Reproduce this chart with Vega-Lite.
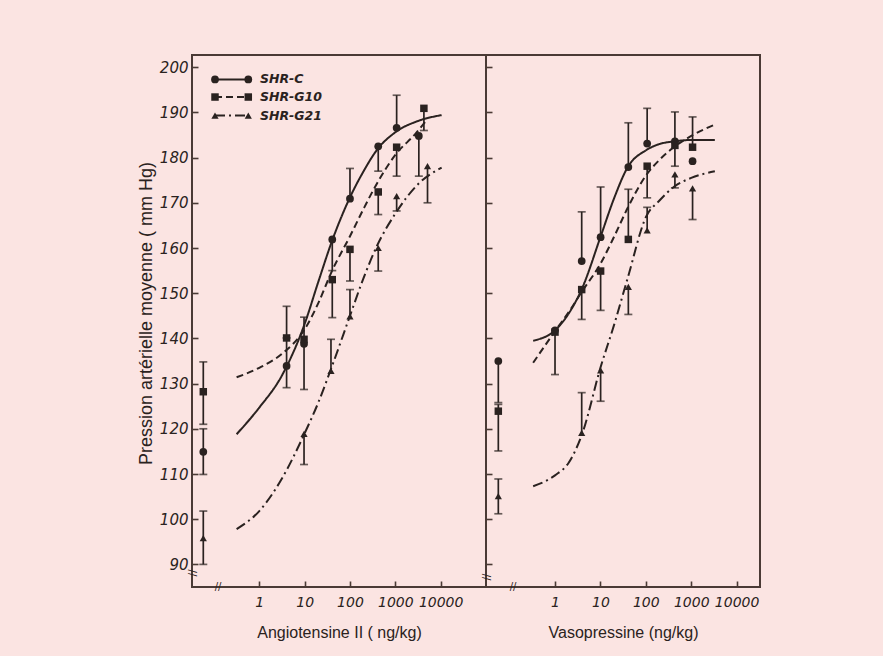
{
  "$schema": "https://vega.github.io/schema/vega-lite/v6.json",
  "padding": {"left": 136, "top": 54, "right": 123, "bottom": 17},
  "background": "#fbe4e2",
  "bounds": "flush",
  "spacing": 0,
  "config": {
    "view": {"stroke": "#4a3a35", "strokeWidth": 2},
    "axis": {
      "domain": false, "grid": false, "tickColor": "#4a3a35", "tickWidth": 1.6, "tickSize": -6,
      "labelFont": "DejaVu Sans", "labelFontStyle": "italic", "labelColor": "#2a2220", "labelOverlap": false,
      "titleFont": "Liberation Sans", "titleFontWeight": "normal", "titleColor": "#2a2220"
    },
    "axisX": {"labelFontSize": 14, "labelPadding": 14, "titlePadding": 15, "titleFontSize": 16},
    "axisY": {"labelFontSize": 15, "labelPadding": 10, "titlePadding": 4, "titleFontSize": 18}
  },
  "datasets": {
    "pts": [
      {"panel": "A", "series": "SHR-G10", "dose": 0.0582, "value": 128.2, "lo": 121.0, "hi": 134.8},
      {"panel": "A", "series": "SHR-C", "dose": 0.0582, "value": 114.9, "lo": 109.9, "hi": 120.0},
      {"panel": "A", "series": "SHR-G21", "dose": 0.0582, "value": 95.8, "lo": 90.0, "hi": 101.8},
      {"panel": "A", "series": "SHR-G10", "dose": 4.0, "value": 140.1, "lo": 140.1, "hi": 147.1},
      {"panel": "A", "series": "SHR-C", "dose": 4.0, "value": 133.9, "lo": 129.1, "hi": 140.1},
      {"panel": "A", "series": "SHR-G10", "dose": 9.7, "value": 139.8, "lo": 139.8, "hi": 144.7},
      {"panel": "A", "series": "SHR-C", "dose": 9.7, "value": 138.8, "lo": 128.7, "hi": 138.8},
      {"panel": "A", "series": "SHR-G21", "dose": 9.7, "value": 118.9, "lo": 112.1, "hi": 118.9},
      {"panel": "A", "series": "SHR-C", "dose": 40.7, "value": 161.9, "lo": 155.0, "hi": 161.9},
      {"panel": "A", "series": "SHR-G10", "dose": 40.7, "value": 153.0, "lo": 144.6, "hi": 153.0},
      {"panel": "A", "series": "SHR-G21", "dose": 38.1, "value": 132.8, "lo": 132.8, "hi": 139.8},
      {"panel": "A", "series": "SHR-C", "dose": 100, "value": 170.9, "lo": 170.9, "hi": 177.6},
      {"panel": "A", "series": "SHR-G10", "dose": 100, "value": 159.7, "lo": 152.7, "hi": 159.7},
      {"panel": "A", "series": "SHR-G21", "dose": 100, "value": 144.9, "lo": 144.9, "hi": 150.8},
      {"panel": "A", "series": "SHR-C", "dose": 420, "value": 182.5, "lo": 177.0, "hi": 182.5},
      {"panel": "A", "series": "SHR-G10", "dose": 420, "value": 172.4, "lo": 167.4, "hi": 172.4},
      {"panel": "A", "series": "SHR-G21", "dose": 420, "value": 160.0, "lo": 154.9, "hi": 160.0},
      {"panel": "A", "series": "SHR-C", "dose": 1070, "value": 186.6, "lo": 186.6, "hi": 193.8},
      {"panel": "A", "series": "SHR-G10", "dose": 1070, "value": 182.3, "lo": 175.9, "hi": 182.3},
      {"panel": "A", "series": "SHR-G21", "dose": 1070, "value": 171.5, "lo": 168.2, "hi": 171.5},
      {"panel": "A", "series": "SHR-C", "dose": 3300, "value": 184.8, "lo": 175.9, "hi": 184.8},
      {"panel": "A", "series": "SHR-G10", "dose": 4270, "value": 190.9, "lo": 186.0, "hi": 190.9},
      {"panel": "A", "series": "SHR-G21", "dose": 5130, "value": 178.1, "lo": 170.0, "hi": 178.1},
      {"panel": "B", "series": "SHR-C", "dose": 0.0564, "value": 135.0, "lo": 125.8, "hi": 135.0},
      {"panel": "B", "series": "SHR-G10", "dose": 0.0564, "value": 123.9, "lo": 115.1, "hi": 125.4},
      {"panel": "B", "series": "SHR-G21", "dose": 0.0564, "value": 105.1, "lo": 101.2, "hi": 108.9},
      {"panel": "B", "series": "SHR-C", "dose": 1, "value": 141.8, "lo": 132.0, "hi": 141.8},
      {"panel": "B", "series": "SHR-G10", "dose": 1, "value": 141.4, "lo": 141.4, "hi": 141.4},
      {"panel": "B", "series": "SHR-C", "dose": 3.87, "value": 157.1, "lo": 157.1, "hi": 168.0},
      {"panel": "B", "series": "SHR-G10", "dose": 3.87, "value": 150.8, "lo": 144.2, "hi": 150.8},
      {"panel": "B", "series": "SHR-G21", "dose": 3.87, "value": 119.1, "lo": 119.1, "hi": 128.0},
      {"panel": "B", "series": "SHR-C", "dose": 10.1, "value": 162.4, "lo": 162.4, "hi": 173.5},
      {"panel": "B", "series": "SHR-G10", "dose": 10.1, "value": 154.9, "lo": 146.2, "hi": 154.9},
      {"panel": "B", "series": "SHR-G21", "dose": 10.1, "value": 132.9, "lo": 126.1, "hi": 132.9},
      {"panel": "B", "series": "SHR-C", "dose": 41.2, "value": 177.9, "lo": 177.9, "hi": 187.7},
      {"panel": "B", "series": "SHR-G10", "dose": 41.2, "value": 161.9, "lo": 161.9, "hi": 173.0},
      {"panel": "B", "series": "SHR-G21", "dose": 41.2, "value": 151.4, "lo": 145.3, "hi": 151.4},
      {"panel": "B", "series": "SHR-C", "dose": 107, "value": 183.1, "lo": 183.1, "hi": 190.9},
      {"panel": "B", "series": "SHR-G10", "dose": 107, "value": 178.1, "lo": 171.1, "hi": 178.1},
      {"panel": "B", "series": "SHR-G21", "dose": 107, "value": 163.9, "lo": 163.9, "hi": 169.0},
      {"panel": "B", "series": "SHR-C", "dose": 437, "value": 183.6, "lo": 183.6, "hi": 190.1},
      {"panel": "B", "series": "SHR-G10", "dose": 437, "value": 182.7, "lo": 178.1, "hi": 182.7},
      {"panel": "B", "series": "SHR-G21", "dose": 437, "value": 176.3, "lo": 173.3, "hi": 176.3},
      {"panel": "B", "series": "SHR-G10", "dose": 1070, "value": 182.3, "lo": 182.3, "hi": 189.0},
      {"panel": "B", "series": "SHR-C", "dose": 1070, "value": 179.2, "lo": 179.2, "hi": 179.2},
      {"panel": "B", "series": "SHR-G21", "dose": 1070, "value": 173.2, "lo": 166.3, "hi": 173.2}
    ],
    "curves": [
      {"panel": "A", "series": "SHR-C", "dose": 0.316, "value": 118.8},
      {"panel": "A", "series": "SHR-C", "dose": 1, "value": 124.7},
      {"panel": "A", "series": "SHR-C", "dose": 3.16, "value": 131.8},
      {"panel": "A", "series": "SHR-C", "dose": 10, "value": 143.2},
      {"panel": "A", "series": "SHR-C", "dose": 20, "value": 152.5},
      {"panel": "A", "series": "SHR-C", "dose": 40, "value": 161.5},
      {"panel": "A", "series": "SHR-C", "dose": 100, "value": 171.2},
      {"panel": "A", "series": "SHR-C", "dose": 200, "value": 177.0},
      {"panel": "A", "series": "SHR-C", "dose": 400, "value": 181.8},
      {"panel": "A", "series": "SHR-C", "dose": 1000, "value": 185.6},
      {"panel": "A", "series": "SHR-C", "dose": 3160, "value": 188.1},
      {"panel": "A", "series": "SHR-C", "dose": 10500, "value": 189.4},
      {"panel": "A", "series": "SHR-G10", "dose": 0.316, "value": 131.4},
      {"panel": "A", "series": "SHR-G10", "dose": 1, "value": 133.5},
      {"panel": "A", "series": "SHR-G10", "dose": 3.16, "value": 136.6},
      {"panel": "A", "series": "SHR-G10", "dose": 10, "value": 142.0},
      {"panel": "A", "series": "SHR-G10", "dose": 20, "value": 147.8},
      {"panel": "A", "series": "SHR-G10", "dose": 40, "value": 154.9},
      {"panel": "A", "series": "SHR-G10", "dose": 100, "value": 162.6},
      {"panel": "A", "series": "SHR-G10", "dose": 200, "value": 168.7},
      {"panel": "A", "series": "SHR-G10", "dose": 400, "value": 174.4},
      {"panel": "A", "series": "SHR-G10", "dose": 1000, "value": 180.6},
      {"panel": "A", "series": "SHR-G10", "dose": 2800, "value": 185.3},
      {"panel": "A", "series": "SHR-G10", "dose": 5000, "value": 188.4},
      {"panel": "A", "series": "SHR-G21", "dose": 0.316, "value": 97.8},
      {"panel": "A", "series": "SHR-G21", "dose": 1, "value": 101.8},
      {"panel": "A", "series": "SHR-G21", "dose": 3.16, "value": 109.0},
      {"panel": "A", "series": "SHR-G21", "dose": 10, "value": 119.0},
      {"panel": "A", "series": "SHR-G21", "dose": 20, "value": 125.8},
      {"panel": "A", "series": "SHR-G21", "dose": 40, "value": 133.8},
      {"panel": "A", "series": "SHR-G21", "dose": 100, "value": 145.0},
      {"panel": "A", "series": "SHR-G21", "dose": 200, "value": 153.4},
      {"panel": "A", "series": "SHR-G21", "dose": 400, "value": 160.6},
      {"panel": "A", "series": "SHR-G21", "dose": 1000, "value": 167.6},
      {"panel": "A", "series": "SHR-G21", "dose": 3160, "value": 174.1},
      {"panel": "A", "series": "SHR-G21", "dose": 10500, "value": 177.8},
      {"panel": "B", "series": "SHR-C", "dose": 0.33, "value": 139.5},
      {"panel": "B", "series": "SHR-C", "dose": 1, "value": 141.8},
      {"panel": "B", "series": "SHR-C", "dose": 2, "value": 145.5},
      {"panel": "B", "series": "SHR-C", "dose": 4, "value": 151.2},
      {"panel": "B", "series": "SHR-C", "dose": 10, "value": 162.4},
      {"panel": "B", "series": "SHR-C", "dose": 20, "value": 171.0},
      {"panel": "B", "series": "SHR-C", "dose": 40, "value": 177.9},
      {"panel": "B", "series": "SHR-C", "dose": 100, "value": 181.6},
      {"panel": "B", "series": "SHR-C", "dose": 200, "value": 183.0},
      {"panel": "B", "series": "SHR-C", "dose": 437, "value": 183.6},
      {"panel": "B", "series": "SHR-C", "dose": 1000, "value": 183.9},
      {"panel": "B", "series": "SHR-C", "dose": 3311, "value": 183.9},
      {"panel": "B", "series": "SHR-G10", "dose": 0.33, "value": 134.6},
      {"panel": "B", "series": "SHR-G10", "dose": 1, "value": 141.6},
      {"panel": "B", "series": "SHR-G10", "dose": 2, "value": 145.8},
      {"panel": "B", "series": "SHR-G10", "dose": 4, "value": 150.5},
      {"panel": "B", "series": "SHR-G10", "dose": 10, "value": 156.5},
      {"panel": "B", "series": "SHR-G10", "dose": 20, "value": 162.5},
      {"panel": "B", "series": "SHR-G10", "dose": 40, "value": 168.9},
      {"panel": "B", "series": "SHR-G10", "dose": 100, "value": 176.0},
      {"panel": "B", "series": "SHR-G10", "dose": 200, "value": 179.5},
      {"panel": "B", "series": "SHR-G10", "dose": 400, "value": 182.2},
      {"panel": "B", "series": "SHR-G10", "dose": 1000, "value": 184.8},
      {"panel": "B", "series": "SHR-G10", "dose": 3311, "value": 187.3},
      {"panel": "B", "series": "SHR-G21", "dose": 0.33, "value": 107.3},
      {"panel": "B", "series": "SHR-G21", "dose": 1, "value": 109.7},
      {"panel": "B", "series": "SHR-G21", "dose": 2, "value": 112.5},
      {"panel": "B", "series": "SHR-G21", "dose": 4, "value": 119.0},
      {"panel": "B", "series": "SHR-G21", "dose": 10, "value": 133.5},
      {"panel": "B", "series": "SHR-G21", "dose": 20, "value": 143.0},
      {"panel": "B", "series": "SHR-G21", "dose": 40, "value": 153.4},
      {"panel": "B", "series": "SHR-G21", "dose": 100, "value": 166.8},
      {"panel": "B", "series": "SHR-G21", "dose": 200, "value": 170.5},
      {"panel": "B", "series": "SHR-G21", "dose": 437, "value": 173.7},
      {"panel": "B", "series": "SHR-G21", "dose": 1000, "value": 175.5},
      {"panel": "B", "series": "SHR-G21", "dose": 3311, "value": 177.0}
    ],
    "legend": [
      {"series": "SHR-C", "label": "SHR-C", "xa": 0.1055, "xb": 0.572, "xt": 1.036, "y": 197.3},
      {"series": "SHR-G10", "label": "SHR-G10", "xa": 0.1055, "xb": 0.572, "xt": 1.036, "y": 193.4},
      {"series": "SHR-G21", "label": "SHR-G21", "xa": 0.1055, "xb": 0.572, "xt": 1.036, "y": 189.3}
    ],
    "breaks": [
      {"panel": "A", "kind": "y", "dose": 0.0328, "value": 88.1},
      {"panel": "A", "kind": "x", "dose": 0.123, "value": 85.0},
      {"panel": "B", "kind": "y", "dose": 0.0302, "value": 87.2},
      {"panel": "B", "kind": "x", "dose": 0.119, "value": 85.0}
    ]
  },
  "hconcat": [
    {
      "width": 294,
      "height": 532,
      "layer": [
        {
          "data": {"name": "pts"},
          "transform": [{"filter": "datum.panel === 'A'"}],
          "mark": {"type": "rule", "color": "#2a2220", "strokeWidth": 1.7},
          "encoding": {
            "x": {"field": "dose", "type": "quantitative", "scale": {"type": "log", "domain": [0.0328, 100000]},
                  "axis": {"values": [1, 10, 100, 1000, 10000], "format": "d", "title": "Angiotensine II ( ng/kg)"}},
            "y": {"field": "lo", "type": "quantitative", "scale": {"domain": [85, 202.7], "nice": false, "zero": false},
                  "axis": {"values": [90, 100, 110, 120, 130, 140, 150, 160, 170, 180, 190, 200], "title": "Pression artérielle moyenne ( mm Hg)", "titleY": 258}},
            "y2": {"field": "hi"}
          }
        },
        {
          "data": {"name": "pts"},
          "transform": [{"filter": "datum.panel === 'A' && datum.lo < datum.value"}],
          "mark": {"type": "tick", "orient": "horizontal", "size": 8, "thickness": 1.7, "color": "#2a2220"},
          "encoding": {
            "x": {"field": "dose", "type": "quantitative", "scale": {"type": "log", "domain": [0.0328, 100000]}},
            "y": {"field": "lo", "type": "quantitative", "scale": {"domain": [85, 202.7], "nice": false, "zero": false}}
          }
        },
        {
          "data": {"name": "pts"},
          "transform": [{"filter": "datum.panel === 'A' && datum.hi > datum.value"}],
          "mark": {"type": "tick", "orient": "horizontal", "size": 8, "thickness": 1.7, "color": "#2a2220"},
          "encoding": {
            "x": {"field": "dose", "type": "quantitative", "scale": {"type": "log", "domain": [0.0328, 100000]}},
            "y": {"field": "hi", "type": "quantitative", "scale": {"domain": [85, 202.7], "nice": false, "zero": false}}
          }
        },
        {
          "data": {"name": "curves"},
          "transform": [{"filter": "datum.panel === 'A'"}],
          "mark": {"type": "line", "color": "#2a2220", "strokeWidth": 2, "interpolate": "monotone"},
          "encoding": {
            "x": {"field": "dose", "type": "quantitative", "scale": {"type": "log", "domain": [0.0328, 100000]}},
            "y": {"field": "value", "type": "quantitative", "scale": {"domain": [85, 202.7], "nice": false, "zero": false}},
            "strokeDash": {"field": "series", "type": "nominal", "scale": {"domain": ["SHR-C", "SHR-G10", "SHR-G21"], "range": [[1, 0], [7, 4], [10, 4, 2, 4]]}, "legend": null}
          }
        },
        {
          "data": {"name": "pts"},
          "transform": [{"filter": "datum.panel === 'A'"}],
          "mark": {"type": "point", "filled": true, "color": "#2a2220", "opacity": 1},
          "encoding": {
            "x": {"field": "dose", "type": "quantitative", "scale": {"type": "log", "domain": [0.0328, 100000]}},
            "y": {"field": "value", "type": "quantitative", "scale": {"domain": [85, 202.7], "nice": false, "zero": false}},
            "shape": {"field": "series", "type": "nominal", "scale": {"domain": ["SHR-C", "SHR-G10", "SHR-G21"], "range": ["circle", "square", "triangle-up"]}, "legend": null},
            "size": {"field": "series", "type": "nominal", "scale": {"domain": ["SHR-C", "SHR-G10", "SHR-G21"], "range": [60, 52, 150]}, "legend": null}
          }
        },
        {
          "data": {"name": "legend"},
          "mark": {"type": "rule", "color": "#2a2220", "strokeWidth": 2},
          "encoding": {
            "x": {"field": "xa", "type": "quantitative", "scale": {"type": "log", "domain": [0.0328, 100000]}},
            "x2": {"field": "xb"},
            "y": {"field": "y", "type": "quantitative", "scale": {"domain": [85, 202.7], "nice": false, "zero": false}},
            "strokeDash": {"field": "series", "type": "nominal", "scale": {"domain": ["SHR-C", "SHR-G10", "SHR-G21"], "range": [[1, 0], [7, 4], [10, 4, 2, 4]]}, "legend": null}
          }
        },
        {
          "data": {"name": "legend"},
          "mark": {"type": "point", "filled": true, "color": "#2a2220", "opacity": 1},
          "encoding": {
            "x": {"field": "xa", "type": "quantitative", "scale": {"type": "log", "domain": [0.0328, 100000]}},
            "y": {"field": "y", "type": "quantitative", "scale": {"domain": [85, 202.7], "nice": false, "zero": false}},
            "shape": {"field": "series", "type": "nominal", "scale": {"domain": ["SHR-C", "SHR-G10", "SHR-G21"], "range": ["circle", "square", "triangle-up"]}, "legend": null},
            "size": {"field": "series", "type": "nominal", "scale": {"domain": ["SHR-C", "SHR-G10", "SHR-G21"], "range": [60, 52, 150]}, "legend": null}
          }
        },
        {
          "data": {"name": "legend"},
          "mark": {"type": "point", "filled": true, "color": "#2a2220", "opacity": 1},
          "encoding": {
            "x": {"field": "xb", "type": "quantitative", "scale": {"type": "log", "domain": [0.0328, 100000]}},
            "y": {"field": "y", "type": "quantitative", "scale": {"domain": [85, 202.7], "nice": false, "zero": false}},
            "shape": {"field": "series", "type": "nominal", "scale": {"domain": ["SHR-C", "SHR-G10", "SHR-G21"], "range": ["circle", "square", "triangle-up"]}, "legend": null},
            "size": {"field": "series", "type": "nominal", "scale": {"domain": ["SHR-C", "SHR-G10", "SHR-G21"], "range": [60, 52, 150]}, "legend": null}
          }
        },
        {
          "data": {"name": "legend"},
          "mark": {"type": "text", "align": "left", "baseline": "middle", "font": "DejaVu Sans", "fontSize": 12.5, "fontStyle": "italic", "fontWeight": "bold", "color": "#2a2220"},
          "encoding": {
            "x": {"field": "xt", "type": "quantitative", "scale": {"type": "log", "domain": [0.0328, 100000]}},
            "y": {"field": "y", "type": "quantitative", "scale": {"domain": [85, 202.7], "nice": false, "zero": false}},
            "text": {"field": "label"}
          }
        },
        {
          "data": {"name": "breaks"},
          "transform": [{"filter": "datum.panel === 'A'"}],
          "mark": {"type": "text", "align": "center", "baseline": "middle", "font": "DejaVu Sans", "fontSize": 10, "color": "#2a2220"},
          "encoding": {
            "x": {"field": "dose", "type": "quantitative", "scale": {"type": "log", "domain": [0.0328, 100000]}},
            "y": {"field": "value", "type": "quantitative", "scale": {"domain": [85, 202.7], "nice": false, "zero": false}},
            "text": {"value": "//"},
            "angle": {"condition": {"test": "datum.kind === 'y'", "value": 90}, "value": 0}
          }
        }
      ]
    },
    {
      "width": 274,
      "height": 532,
      "layer": [
        {
          "data": {"name": "pts"},
          "transform": [{"filter": "datum.panel === 'B'"}],
          "mark": {"type": "rule", "color": "#2a2220", "strokeWidth": 1.7},
          "encoding": {
            "x": {"field": "dose", "type": "quantitative", "scale": {"type": "log", "domain": [0.0302, 32700]},
                  "axis": {"values": [1, 10, 100, 1000, 10000], "format": "d", "title": "Vasopressine (ng/kg)"}},
            "y": {"field": "lo", "type": "quantitative", "scale": {"domain": [85, 202.7], "nice": false, "zero": false},
                  "axis": {"values": [90, 100, 110, 120, 130, 140, 150, 160, 170, 180, 190, 200], "labels": false, "title": null}},
            "y2": {"field": "hi"}
          }
        },
        {
          "data": {"name": "pts"},
          "transform": [{"filter": "datum.panel === 'B' && datum.lo < datum.value"}],
          "mark": {"type": "tick", "orient": "horizontal", "size": 8, "thickness": 1.7, "color": "#2a2220"},
          "encoding": {
            "x": {"field": "dose", "type": "quantitative", "scale": {"type": "log", "domain": [0.0302, 32700]}},
            "y": {"field": "lo", "type": "quantitative", "scale": {"domain": [85, 202.7], "nice": false, "zero": false}}
          }
        },
        {
          "data": {"name": "pts"},
          "transform": [{"filter": "datum.panel === 'B' && datum.hi > datum.value"}],
          "mark": {"type": "tick", "orient": "horizontal", "size": 8, "thickness": 1.7, "color": "#2a2220"},
          "encoding": {
            "x": {"field": "dose", "type": "quantitative", "scale": {"type": "log", "domain": [0.0302, 32700]}},
            "y": {"field": "hi", "type": "quantitative", "scale": {"domain": [85, 202.7], "nice": false, "zero": false}}
          }
        },
        {
          "data": {"name": "curves"},
          "transform": [{"filter": "datum.panel === 'B'"}],
          "mark": {"type": "line", "color": "#2a2220", "strokeWidth": 2, "interpolate": "monotone"},
          "encoding": {
            "x": {"field": "dose", "type": "quantitative", "scale": {"type": "log", "domain": [0.0302, 32700]}},
            "y": {"field": "value", "type": "quantitative", "scale": {"domain": [85, 202.7], "nice": false, "zero": false}},
            "strokeDash": {"field": "series", "type": "nominal", "scale": {"domain": ["SHR-C", "SHR-G10", "SHR-G21"], "range": [[1, 0], [7, 4], [10, 4, 2, 4]]}, "legend": null}
          }
        },
        {
          "data": {"name": "pts"},
          "transform": [{"filter": "datum.panel === 'B'"}],
          "mark": {"type": "point", "filled": true, "color": "#2a2220", "opacity": 1},
          "encoding": {
            "x": {"field": "dose", "type": "quantitative", "scale": {"type": "log", "domain": [0.0302, 32700]}},
            "y": {"field": "value", "type": "quantitative", "scale": {"domain": [85, 202.7], "nice": false, "zero": false}},
            "shape": {"field": "series", "type": "nominal", "scale": {"domain": ["SHR-C", "SHR-G10", "SHR-G21"], "range": ["circle", "square", "triangle-up"]}, "legend": null},
            "size": {"field": "series", "type": "nominal", "scale": {"domain": ["SHR-C", "SHR-G10", "SHR-G21"], "range": [60, 52, 150]}, "legend": null}
          }
        },
        {
          "data": {"name": "breaks"},
          "transform": [{"filter": "datum.panel === 'B'"}],
          "mark": {"type": "text", "align": "center", "baseline": "middle", "font": "DejaVu Sans", "fontSize": 10, "color": "#2a2220"},
          "encoding": {
            "x": {"field": "dose", "type": "quantitative", "scale": {"type": "log", "domain": [0.0302, 32700]}},
            "y": {"field": "value", "type": "quantitative", "scale": {"domain": [85, 202.7], "nice": false, "zero": false}},
            "text": {"value": "//"},
            "angle": {"condition": {"test": "datum.kind === 'y'", "value": 90}, "value": 0}
          }
        }
      ]
    }
  ]
}
